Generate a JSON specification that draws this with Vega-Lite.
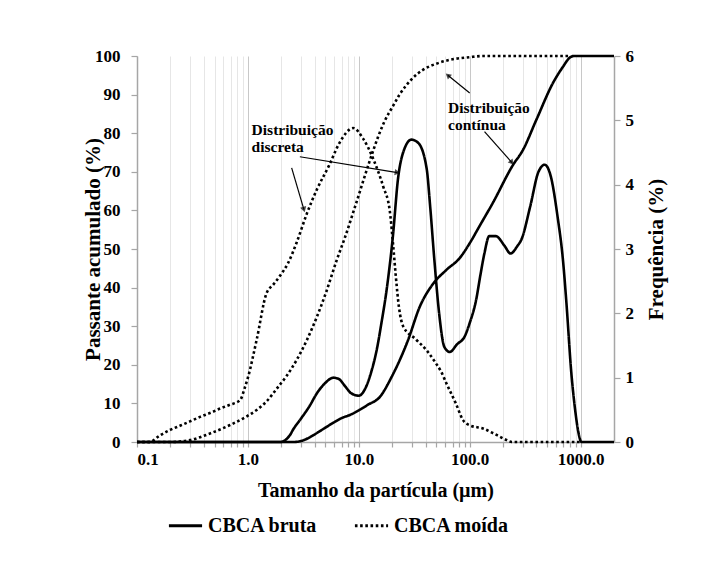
{
  "$schema": "https://vega.github.io/schema/vega-lite/v6.json",
  "width": 477,
  "height": 386,
  "autosize": {"type": "none"},
  "padding": {"left": 137, "top": 56, "right": 104, "bottom": 134},
  "background": "white",
  "config": {
    "font": "Liberation Serif",
    "view": {"stroke": null},
    "text": {"font": "Liberation Serif"},
    "legend": {"labelFont": "Liberation Serif", "titleFont": "Liberation Serif"},
    "axis": {
      "labelFont": "Liberation Serif",
      "labelFontWeight": "bold",
      "labelColor": "black",
      "titleFont": "Liberation Serif",
      "titleFontWeight": "bold",
      "titleColor": "black",
      "domainColor": "#a6a6a6",
      "tickColor": "#a6a6a6",
      "domainWidth": 1.5,
      "tickWidth": 1.2
    }
  },
  "datasets": {
    "curves": [
      {"size": 0.1, "sample": "CBCA bruta", "kind": "cum", "value": 0},
      {"size": 1, "sample": "CBCA bruta", "kind": "cum", "value": 0},
      {"size": 2.6, "sample": "CBCA bruta", "kind": "cum", "value": 0},
      {"size": 3.2, "sample": "CBCA bruta", "kind": "cum", "value": 0.5},
      {"size": 3.9, "sample": "CBCA bruta", "kind": "cum", "value": 1.8},
      {"size": 4.8, "sample": "CBCA bruta", "kind": "cum", "value": 3.4},
      {"size": 5.9, "sample": "CBCA bruta", "kind": "cum", "value": 5},
      {"size": 7, "sample": "CBCA bruta", "kind": "cum", "value": 6.2},
      {"size": 8.3, "sample": "CBCA bruta", "kind": "cum", "value": 7},
      {"size": 10, "sample": "CBCA bruta", "kind": "cum", "value": 8.2},
      {"size": 12, "sample": "CBCA bruta", "kind": "cum", "value": 9.6},
      {"size": 15.5, "sample": "CBCA bruta", "kind": "cum", "value": 11.7},
      {"size": 19.8, "sample": "CBCA bruta", "kind": "cum", "value": 16.9},
      {"size": 27.8, "sample": "CBCA bruta", "kind": "cum", "value": 26.4},
      {"size": 35.4, "sample": "CBCA bruta", "kind": "cum", "value": 35},
      {"size": 46.8, "sample": "CBCA bruta", "kind": "cum", "value": 41},
      {"size": 61.7, "sample": "CBCA bruta", "kind": "cum", "value": 44.6},
      {"size": 81, "sample": "CBCA bruta", "kind": "cum", "value": 47.6},
      {"size": 100, "sample": "CBCA bruta", "kind": "cum", "value": 51.5},
      {"size": 123, "sample": "CBCA bruta", "kind": "cum", "value": 56},
      {"size": 162, "sample": "CBCA bruta", "kind": "cum", "value": 62},
      {"size": 246, "sample": "CBCA bruta", "kind": "cum", "value": 71.8},
      {"size": 300, "sample": "CBCA bruta", "kind": "cum", "value": 75.5},
      {"size": 398, "sample": "CBCA bruta", "kind": "cum", "value": 83.4},
      {"size": 563, "sample": "CBCA bruta", "kind": "cum", "value": 93},
      {"size": 693, "sample": "CBCA bruta", "kind": "cum", "value": 97.2},
      {"size": 800, "sample": "CBCA bruta", "kind": "cum", "value": 99.6},
      {"size": 870, "sample": "CBCA bruta", "kind": "cum", "value": 100},
      {"size": 2000, "sample": "CBCA bruta", "kind": "cum", "value": 100},

      {"size": 0.1, "sample": "CBCA bruta", "kind": "freq", "value": 0},
      {"size": 1, "sample": "CBCA bruta", "kind": "freq", "value": 0},
      {"size": 1.95, "sample": "CBCA bruta", "kind": "freq", "value": 0},
      {"size": 2.4, "sample": "CBCA bruta", "kind": "freq", "value": 0.11},
      {"size": 2.55, "sample": "CBCA bruta", "kind": "freq", "value": 0.19},
      {"size": 3.0, "sample": "CBCA bruta", "kind": "freq", "value": 0.36},
      {"size": 3.6, "sample": "CBCA bruta", "kind": "freq", "value": 0.56},
      {"size": 4.2, "sample": "CBCA bruta", "kind": "freq", "value": 0.76},
      {"size": 5, "sample": "CBCA bruta", "kind": "freq", "value": 0.92},
      {"size": 5.9, "sample": "CBCA bruta", "kind": "freq", "value": 1.0},
      {"size": 6.6, "sample": "CBCA bruta", "kind": "freq", "value": 0.98},
      {"size": 7.5, "sample": "CBCA bruta", "kind": "freq", "value": 0.87},
      {"size": 8.5, "sample": "CBCA bruta", "kind": "freq", "value": 0.76},
      {"size": 10, "sample": "CBCA bruta", "kind": "freq", "value": 0.72},
      {"size": 11.5, "sample": "CBCA bruta", "kind": "freq", "value": 0.84},
      {"size": 13, "sample": "CBCA bruta", "kind": "freq", "value": 1.1},
      {"size": 14.5, "sample": "CBCA bruta", "kind": "freq", "value": 1.43},
      {"size": 16, "sample": "CBCA bruta", "kind": "freq", "value": 1.85},
      {"size": 17.8, "sample": "CBCA bruta", "kind": "freq", "value": 2.36},
      {"size": 20.3, "sample": "CBCA bruta", "kind": "freq", "value": 3.2},
      {"size": 22.6, "sample": "CBCA bruta", "kind": "freq", "value": 4.1},
      {"size": 25.1, "sample": "CBCA bruta", "kind": "freq", "value": 4.5},
      {"size": 29.8, "sample": "CBCA bruta", "kind": "freq", "value": 4.7},
      {"size": 34.3, "sample": "CBCA bruta", "kind": "freq", "value": 4.65},
      {"size": 40.9, "sample": "CBCA bruta", "kind": "freq", "value": 4.25},
      {"size": 44, "sample": "CBCA bruta", "kind": "freq", "value": 3.66},
      {"size": 48, "sample": "CBCA bruta", "kind": "freq", "value": 2.83},
      {"size": 53, "sample": "CBCA bruta", "kind": "freq", "value": 2.0},
      {"size": 59, "sample": "CBCA bruta", "kind": "freq", "value": 1.48},
      {"size": 66, "sample": "CBCA bruta", "kind": "freq", "value": 1.4},
      {"size": 77, "sample": "CBCA bruta", "kind": "freq", "value": 1.52},
      {"size": 90, "sample": "CBCA bruta", "kind": "freq", "value": 1.64},
      {"size": 100, "sample": "CBCA bruta", "kind": "freq", "value": 1.85},
      {"size": 114, "sample": "CBCA bruta", "kind": "freq", "value": 2.2},
      {"size": 125, "sample": "CBCA bruta", "kind": "freq", "value": 2.6},
      {"size": 136, "sample": "CBCA bruta", "kind": "freq", "value": 2.94},
      {"size": 150, "sample": "CBCA bruta", "kind": "freq", "value": 3.2},
      {"size": 172, "sample": "CBCA bruta", "kind": "freq", "value": 3.2},
      {"size": 206, "sample": "CBCA bruta", "kind": "freq", "value": 3.05},
      {"size": 233, "sample": "CBCA bruta", "kind": "freq", "value": 2.93},
      {"size": 270, "sample": "CBCA bruta", "kind": "freq", "value": 3.05},
      {"size": 293, "sample": "CBCA bruta", "kind": "freq", "value": 3.15},
      {"size": 351, "sample": "CBCA bruta", "kind": "freq", "value": 3.66},
      {"size": 417, "sample": "CBCA bruta", "kind": "freq", "value": 4.2},
      {"size": 475, "sample": "CBCA bruta", "kind": "freq", "value": 4.31},
      {"size": 540, "sample": "CBCA bruta", "kind": "freq", "value": 4.12},
      {"size": 620, "sample": "CBCA bruta", "kind": "freq", "value": 3.5},
      {"size": 693, "sample": "CBCA bruta", "kind": "freq", "value": 2.83},
      {"size": 742, "sample": "CBCA bruta", "kind": "freq", "value": 2.2},
      {"size": 825, "sample": "CBCA bruta", "kind": "freq", "value": 1.07},
      {"size": 900, "sample": "CBCA bruta", "kind": "freq", "value": 0.45},
      {"size": 950, "sample": "CBCA bruta", "kind": "freq", "value": 0.17},
      {"size": 1020, "sample": "CBCA bruta", "kind": "freq", "value": 0},
      {"size": 2000, "sample": "CBCA bruta", "kind": "freq", "value": 0},

      {"size": 0.1, "sample": "CBCA moída", "kind": "freq", "value": 0},
      {"size": 0.13, "sample": "CBCA moída", "kind": "freq", "value": 0},
      {"size": 0.16, "sample": "CBCA moída", "kind": "freq", "value": 0.1},
      {"size": 0.2, "sample": "CBCA moída", "kind": "freq", "value": 0.19},
      {"size": 0.25, "sample": "CBCA moída", "kind": "freq", "value": 0.26},
      {"size": 0.3, "sample": "CBCA moída", "kind": "freq", "value": 0.32},
      {"size": 0.37, "sample": "CBCA moída", "kind": "freq", "value": 0.39},
      {"size": 0.455, "sample": "CBCA moída", "kind": "freq", "value": 0.45},
      {"size": 0.56, "sample": "CBCA moída", "kind": "freq", "value": 0.52},
      {"size": 0.69, "sample": "CBCA moída", "kind": "freq", "value": 0.58},
      {"size": 0.85, "sample": "CBCA moída", "kind": "freq", "value": 0.65},
      {"size": 0.94, "sample": "CBCA moída", "kind": "freq", "value": 0.85},
      {"size": 1.0, "sample": "CBCA moída", "kind": "freq", "value": 1.0},
      {"size": 1.2, "sample": "CBCA moída", "kind": "freq", "value": 1.59},
      {"size": 1.47, "sample": "CBCA moída", "kind": "freq", "value": 2.31},
      {"size": 1.7, "sample": "CBCA moída", "kind": "freq", "value": 2.45},
      {"size": 1.94, "sample": "CBCA moída", "kind": "freq", "value": 2.58},
      {"size": 2.3, "sample": "CBCA moída", "kind": "freq", "value": 2.78},
      {"size": 2.75, "sample": "CBCA moída", "kind": "freq", "value": 3.1},
      {"size": 3.4, "sample": "CBCA moída", "kind": "freq", "value": 3.55},
      {"size": 4.2, "sample": "CBCA moída", "kind": "freq", "value": 3.93},
      {"size": 5.4, "sample": "CBCA moída", "kind": "freq", "value": 4.3},
      {"size": 6.7, "sample": "CBCA moída", "kind": "freq", "value": 4.65},
      {"size": 8.9, "sample": "CBCA moída", "kind": "freq", "value": 4.88},
      {"size": 10.9, "sample": "CBCA moída", "kind": "freq", "value": 4.72},
      {"size": 13.5, "sample": "CBCA moída", "kind": "freq", "value": 4.4},
      {"size": 16.6, "sample": "CBCA moída", "kind": "freq", "value": 3.97},
      {"size": 19, "sample": "CBCA moída", "kind": "freq", "value": 3.6},
      {"size": 20.3, "sample": "CBCA moída", "kind": "freq", "value": 3.1},
      {"size": 21.5, "sample": "CBCA moída", "kind": "freq", "value": 2.6},
      {"size": 23, "sample": "CBCA moída", "kind": "freq", "value": 2.1},
      {"size": 25.1, "sample": "CBCA moída", "kind": "freq", "value": 1.8},
      {"size": 33, "sample": "CBCA moída", "kind": "freq", "value": 1.59},
      {"size": 42, "sample": "CBCA moída", "kind": "freq", "value": 1.4},
      {"size": 49.7, "sample": "CBCA moída", "kind": "freq", "value": 1.22},
      {"size": 55, "sample": "CBCA moída", "kind": "freq", "value": 1.1},
      {"size": 61.7, "sample": "CBCA moída", "kind": "freq", "value": 0.91},
      {"size": 75, "sample": "CBCA moída", "kind": "freq", "value": 0.6},
      {"size": 87, "sample": "CBCA moída", "kind": "freq", "value": 0.34},
      {"size": 100, "sample": "CBCA moída", "kind": "freq", "value": 0.26},
      {"size": 132, "sample": "CBCA moída", "kind": "freq", "value": 0.21},
      {"size": 170, "sample": "CBCA moída", "kind": "freq", "value": 0.12},
      {"size": 215, "sample": "CBCA moída", "kind": "freq", "value": 0.03},
      {"size": 240, "sample": "CBCA moída", "kind": "freq", "value": 0},
      {"size": 1000, "sample": "CBCA moída", "kind": "freq", "value": 0},

      {"size": 0.1, "sample": "CBCA moída", "kind": "cum", "value": 0},
      {"size": 0.2, "sample": "CBCA moída", "kind": "cum", "value": 0},
      {"size": 0.3, "sample": "CBCA moída", "kind": "cum", "value": 0.5},
      {"size": 0.455, "sample": "CBCA moída", "kind": "cum", "value": 2.2},
      {"size": 0.69, "sample": "CBCA moída", "kind": "cum", "value": 4.4},
      {"size": 0.97, "sample": "CBCA moída", "kind": "cum", "value": 6.6},
      {"size": 1.2, "sample": "CBCA moída", "kind": "cum", "value": 8.3},
      {"size": 1.47, "sample": "CBCA moída", "kind": "cum", "value": 10.5},
      {"size": 1.9, "sample": "CBCA moída", "kind": "cum", "value": 14.5},
      {"size": 2.22, "sample": "CBCA moída", "kind": "cum", "value": 17},
      {"size": 3.4, "sample": "CBCA moída", "kind": "cum", "value": 26.4},
      {"size": 5.1, "sample": "CBCA moída", "kind": "cum", "value": 39},
      {"size": 6.3, "sample": "CBCA moída", "kind": "cum", "value": 47},
      {"size": 7.5, "sample": "CBCA moída", "kind": "cum", "value": 53},
      {"size": 9.5, "sample": "CBCA moída", "kind": "cum", "value": 62},
      {"size": 12.6, "sample": "CBCA moída", "kind": "cum", "value": 73},
      {"size": 14.9, "sample": "CBCA moída", "kind": "cum", "value": 79},
      {"size": 17, "sample": "CBCA moída", "kind": "cum", "value": 83},
      {"size": 20.3, "sample": "CBCA moída", "kind": "cum", "value": 87},
      {"size": 23.3, "sample": "CBCA moída", "kind": "cum", "value": 90},
      {"size": 30, "sample": "CBCA moída", "kind": "cum", "value": 94},
      {"size": 37.8, "sample": "CBCA moída", "kind": "cum", "value": 96.4},
      {"size": 50, "sample": "CBCA moída", "kind": "cum", "value": 98},
      {"size": 66, "sample": "CBCA moída", "kind": "cum", "value": 99},
      {"size": 100, "sample": "CBCA moída", "kind": "cum", "value": 99.7},
      {"size": 132, "sample": "CBCA moída", "kind": "cum", "value": 100},
      {"size": 800, "sample": "CBCA moída", "kind": "cum", "value": 100}
    ],
    "notes": [
      {"x": 1.08, "y": 80.8, "label": "Distribuição"},
      {"x": 1.08, "y": 76.3, "label": "discreta"},
      {"x": 63.8, "y": 86.5, "label": "Distribuição"},
      {"x": 63.8, "y": 82, "label": "contínua"}
    ],
    "arrows": [
      {"id": "A", "x1": 2.48, "y1": 71, "x2": 3.2, "y2": 60.2},
      {"id": "B", "x1": 2.94, "y1": 73.9, "x2": 22.3, "y2": 69.8},
      {"id": "C", "x1": 100, "y1": 90.4, "x2": 63.5, "y2": 95.0},
      {"id": "D", "x1": 136, "y1": 80.4, "x2": 240, "y2": 72.4}
    ]
  },
  "layer": [
    {
      "data": {"name": "curves"},
      "transform": [{"filter": "datum.kind == 'cum'"}],
      "mark": {"type": "line", "interpolate": "monotone", "strokeWidth": 2.6, "color": "black"},
      "encoding": {
        "x": {
          "field": "size", "type": "quantitative",
          "scale": {"type": "log", "domain": [0.1, 2000], "nice": false},
          "axis": {
            "orient": "bottom",
            "title": "Tamanho da partícula (µm)",
            "titleFontSize": 20,
            "titlePadding": 13,
            "values": [0.1,0.2,0.3,0.4,0.5,0.6,0.7,0.8,0.9,1,2,3,4,5,6,7,8,9,10,20,30,40,50,60,70,80,90,100,200,300,400,500,600,700,800,900,1000],
            "labelExpr": "indexof([0.1,1,10,100,1000], datum.value) >= 0 ? format(datum.value, '.1f') : ''",
            "labelOverlap": false,
            "labelFontSize": 17,
            "labelPadding": 4,
            "tickSize": 5,
            "grid": true,
            "gridColor": {"condition": {"test": "indexof([0.1,1,10,100,1000], datum.value) >= 0", "value": "#c8c8c8"}, "value": "#e6e6e6"},
            "gridWidth": 1
          }
        },
        "y": {
          "field": "value", "type": "quantitative",
          "scale": {"domain": [0, 100], "nice": false},
          "axis": {
            "orient": "left",
            "title": "Passante acumulado (%)",
            "titleFontSize": 21,
            "titleX": -34,
            "values": [0,10,20,30,40,50,60,70,80,90,100],
            "labelOverlap": false,
            "labelFontSize": 17,
            "labelPadding": 11,
            "tickSize": 6,
            "grid": false
          }
        },
        "strokeDash": {
          "field": "sample", "type": "nominal",
          "scale": {"domain": ["CBCA bruta", "CBCA moída"], "range": [[1, 0], [2.6, 2.6]]},
          "legend": {
            "orient": "none",
            "legendX": 30,
            "legendY": 451,
            "direction": "horizontal",
            "title": null,
            "labelFont": "Liberation Serif",
            "labelFontWeight": "bold",
            "labelFontSize": 20,
            "labelColor": "black",
            "symbolSize": 1100,
            "symbolStrokeWidth": 3,
            "symbolStrokeColor": "black",
            "columnPadding": 30,
            "labelOffset": 4
          }
        }
      }
    },
    {
      "data": {"name": "curves"},
      "transform": [{"filter": "datum.kind == 'freq'"}],
      "mark": {"type": "line", "interpolate": "monotone", "strokeWidth": 2.6, "color": "black"},
      "encoding": {
        "x": {"field": "size", "type": "quantitative"},
        "y": {
          "field": "value", "type": "quantitative",
          "scale": {"domain": [0, 6], "nice": false},
          "axis": {
            "orient": "right",
            "title": "Frequência (%)",
            "titleFontSize": 21,
            "titleAngle": 270,
            "titleBaseline": "top",
            "titlePadding": 12,
            "values": [0,1,2,3,4,5,6],
            "labelOverlap": false,
            "labelFontSize": 17,
            "labelPadding": 5,
            "tickSize": 6,
            "grid": false
          }
        },
        "strokeDash": {"field": "sample", "type": "nominal"}
      }
    },
    {
      "data": {"name": "arrows"},
      "mark": {"type": "rule", "color": "black", "strokeWidth": 1.2},
      "encoding": {
        "x": {"field": "x1", "type": "quantitative"},
        "y": {"field": "y1", "type": "quantitative", "scale": {"domain": [0, 100], "nice": false}, "axis": null},
        "x2": {"field": "x2"},
        "y2": {"field": "y2"}
      }
    },
    {
      "data": {"name": "arrows"},
      "transform": [{"filter": "datum.id == 'A'"}],
      "mark": {"type": "point", "shape": "triangle-up", "filled": true, "color": "black", "size": 40, "angle": 164},
      "encoding": {"x": {"field": "x2", "type": "quantitative"}, "y": {"field": "y2", "type": "quantitative", "scale": {"domain": [0, 100], "nice": false}, "axis": null}}
    },
    {
      "data": {"name": "arrows"},
      "transform": [{"filter": "datum.id == 'B'"}],
      "mark": {"type": "point", "shape": "triangle-up", "filled": true, "color": "black", "size": 40, "angle": 99},
      "encoding": {"x": {"field": "x2", "type": "quantitative"}, "y": {"field": "y2", "type": "quantitative", "scale": {"domain": [0, 100], "nice": false}, "axis": null}}
    },
    {
      "data": {"name": "arrows"},
      "transform": [{"filter": "datum.id == 'C'"}],
      "mark": {"type": "point", "shape": "triangle-up", "filled": true, "color": "black", "size": 40, "angle": 310},
      "encoding": {"x": {"field": "x2", "type": "quantitative"}, "y": {"field": "y2", "type": "quantitative", "scale": {"domain": [0, 100], "nice": false}, "axis": null}}
    },
    {
      "data": {"name": "arrows"},
      "transform": [{"filter": "datum.id == 'D'"}],
      "mark": {"type": "point", "shape": "triangle-up", "filled": true, "color": "black", "size": 40, "angle": 140},
      "encoding": {"x": {"field": "x2", "type": "quantitative"}, "y": {"field": "y2", "type": "quantitative", "scale": {"domain": [0, 100], "nice": false}, "axis": null}}
    },
    {
      "data": {"name": "notes"},
      "mark": {"type": "text", "align": "left", "baseline": "middle", "font": "Liberation Serif", "fontWeight": "bold", "fontSize": 15.5, "color": "black"},
      "encoding": {
        "x": {"field": "x", "type": "quantitative"},
        "y": {"field": "y", "type": "quantitative", "scale": {"domain": [0, 100], "nice": false}, "axis": null},
        "text": {"field": "label"}
      }
    }
  ],
  "resolve": {"scale": {"y": "independent"}}
}
